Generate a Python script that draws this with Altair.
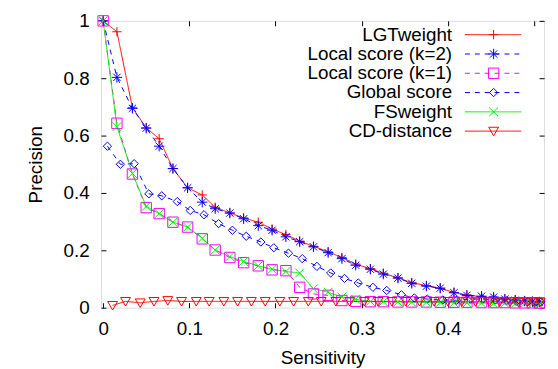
import altair as alt
import pandas as pd

# ---- data ----
series_names = ["LGTweight", "Local score (k=2)", "Local score (k=1)",
                "Global score", "FSweight", "CD-distance"]

sens_main = [0, 0.016, 0.034, 0.050, 0.065, 0.081, 0.098, 0.115, 0.130, 0.147,
             0.163, 0.180, 0.196, 0.212, 0.228, 0.244, 0.261, 0.277, 0.293, 0.310,
             0.325, 0.342, 0.358, 0.375, 0.391, 0.407, 0.422, 0.439, 0.453, 0.466,
             0.478, 0.489, 0.498, 0.506]

prec_lgt = [1.0, 0.962, 0.697, 0.627, 0.589, 0.485, 0.418, 0.393, 0.350, 0.330,
            0.313, 0.298, 0.274, 0.255, 0.232, 0.214, 0.195, 0.175, 0.152, 0.136,
            0.120, 0.104, 0.087, 0.077, 0.068, 0.053, 0.044, 0.038, 0.034, 0.030,
            0.027, 0.024, 0.022, 0.020]

prec_k2 = [1.0, 0.803, 0.695, 0.626, 0.563, 0.485, 0.418, 0.368, 0.345, 0.330,
           0.310, 0.286, 0.270, 0.247, 0.230, 0.212, 0.192, 0.171, 0.148, 0.134,
           0.117, 0.103, 0.085, 0.075, 0.068, 0.052, 0.043, 0.040, 0.037, 0.030,
           0.026, 0.023, 0.021, 0.020]

prec_k1 = [1.0, 0.643, 0.466, 0.349, 0.328, 0.298, 0.281, 0.240, 0.201, 0.175,
           0.157, 0.146, 0.132, 0.129, 0.071, 0.048, 0.043, 0.025, 0.022, 0.021,
           0.021, 0.020, 0.020, 0.020, 0.019, 0.019, 0.019, 0.018, 0.018, 0.018,
           0.017, 0.017, 0.017, 0.016]

prec_fs = [1.0, 0.631, 0.468, 0.353, 0.328, 0.298, 0.281, 0.242, 0.201, 0.178,
           0.161, 0.146, 0.134, 0.126, 0.121, 0.066, 0.054, 0.037, 0.029, 0.022,
           0.021, 0.020, 0.019, 0.019, 0.018, 0.017, 0.016, 0.016, 0.015, 0.015,
           0.014, 0.014, 0.013, 0.013]

sens_global = [0.005, 0.020, 0.036, 0.053, 0.068, 0.086, 0.101, 0.117, 0.134, 0.150,
               0.166, 0.183, 0.198, 0.215, 0.231, 0.248, 0.264, 0.280, 0.296, 0.313,
               0.329, 0.346, 0.361, 0.376, 0.394, 0.410, 0.426, 0.440, 0.455, 0.468,
               0.480, 0.492, 0.502, 0.508]
prec_global = [0.563, 0.500, 0.502, 0.397, 0.390, 0.370, 0.339, 0.324, 0.293, 0.270,
               0.249, 0.229, 0.209, 0.190, 0.171, 0.144, 0.121, 0.102, 0.086, 0.071,
               0.060, 0.045, 0.034, 0.030, 0.027, 0.026, 0.030, 0.030, 0.027, 0.024,
               0.022, 0.020, 0.020, 0.020]

sens_cd = [0.011, 0.026, 0.043, 0.059, 0.075, 0.091, 0.108, 0.123, 0.140, 0.156,
           0.172, 0.188, 0.205, 0.221, 0.238, 0.253, 0.270, 0.286, 0.303, 0.319,
           0.335, 0.351, 0.367, 0.384, 0.400, 0.416, 0.432, 0.448, 0.460, 0.472,
           0.482, 0.492, 0.500, 0.507]
prec_cd = [0.008, 0.022, 0.017, 0.022, 0.025, 0.022, 0.022, 0.022, 0.022, 0.022,
           0.022, 0.022, 0.022, 0.022, 0.022, 0.022, 0.022, 0.022, 0.022, 0.022,
           0.022, 0.022, 0.022, 0.022, 0.022, 0.021, 0.021, 0.021, 0.021, 0.020,
           0.020, 0.020, 0.020, 0.020]

x_ticks = [0, 0.1, 0.2, 0.3, 0.4, 0.5]
y_ticks = [0, 0.2, 0.4, 0.6, 0.8, 1.0]
x_range = [-0.0025, 0.5115]
y_range = [0, 1]

# ---- build tables ----
rows = []
for name, xs, ys in [
    (series_names[0], sens_main, prec_lgt),
    (series_names[1], sens_main, prec_k2),
    (series_names[2], sens_main, prec_k1),
    (series_names[3], sens_global, prec_global),
    (series_names[4], sens_main, prec_fs),
    (series_names[5], sens_cd, prec_cd),
]:
    for xv, yv in zip(xs, ys):
        rows.append({"series": name, "Sensitivity": xv, "Precision": yv})
df = pd.DataFrame(rows)

colors = ["#ff0000", "#0000ff", "#ff00ff", "#0000ff", "#00ee00", "#ff0000"]
dashes = [[1, 0], [5, 5], [5, 5], [5, 5], [1, 0], [1, 0]]
shapes = [
    "M-0.9,0L0.9,0M0,-0.9L0,0.9",
    "M-1,0L1,0M0,-1L0,1M-0.7,-0.7L0.7,0.7M-0.7,0.7L0.7,-0.7",
    "M-1,-1L1,-1L1,1L-1,1Z",
    "M-0.8,0L0,-0.8L0.8,0L0,0.8Z",
    "M-0.85,-0.85L0.85,0.85M-0.85,0.85L0.85,-0.85",
    "M-0.95,-0.75L0.95,-0.75L0,0.9Z",
]

color_enc = alt.Color("series:N", scale=alt.Scale(domain=series_names, range=colors), legend=None)
dash_enc = alt.StrokeDash("series:N", scale=alt.Scale(domain=series_names, range=dashes), legend=None)
shape_enc = alt.Shape("series:N", scale=alt.Scale(domain=series_names, range=shapes), legend=None)

FONT = "Liberation Sans"
FS = 19
TICK = 5

xscale = alt.Scale(domain=x_range, nice=False, zero=False)
yscale = alt.Scale(domain=y_range, nice=False, zero=False)

lines = alt.Chart(df).mark_line(strokeWidth=1, clip=False).encode(
    x=alt.X("Sensitivity:Q", scale=xscale,
            axis=alt.Axis(orient="bottom", values=x_ticks, format="~g", domain=False,
                          grid=False, offset=-TICK, tickSize=TICK, tickColor="black",
                          labelPadding=12, labelFont=FONT, labelFontSize=FS,
                          labelColor="black", title="Sensitivity", titleFont=FONT,
                          titleFontSize=FS, titleFontWeight="normal", titleColor="black",
                          titlePadding=10)),
    y=alt.Y("Precision:Q", scale=yscale,
            axis=alt.Axis(orient="left", values=y_ticks, format="~g", domain=False,
                          grid=False, offset=-TICK, tickSize=TICK, tickColor="black",
                          labelPadding=12, labelFont=FONT, labelFontSize=FS,
                          labelColor="black", title="Precision", titleFont=FONT,
                          titleFontSize=FS, titleFontWeight="normal", titleColor="black",
                          titlePadding=18)),
    color=color_enc,
    strokeDash=dash_enc,
    detail="series:N",
)

points = alt.Chart(df).mark_point(filled=False, strokeWidth=1, size=110, opacity=1, clip=False).encode(
    x=alt.X("Sensitivity:Q", scale=xscale,
            axis=alt.Axis(orient="top", values=x_ticks, labels=False, domain=False,
                          grid=False, offset=-TICK, tickSize=TICK, tickColor="black", title=None)),
    y=alt.Y("Precision:Q", scale=yscale,
            axis=alt.Axis(orient="right", values=y_ticks, labels=False, domain=False,
                          grid=False, offset=-TICK, tickSize=TICK, tickColor="black", title=None)),
    color=color_enc,
    shape=shape_enc,
)

# ---- legend (inside plot, top right) ----
leg = pd.DataFrame({"series": series_names,
                    "ly": [14 + 19.5 * i for i in range(len(series_names))]})

leg_y = alt.Y("ly:Q", scale=None, axis=None)
leg_rule = alt.Chart(leg).mark_rule(strokeWidth=1).encode(
    x=alt.value(368), x2=alt.value(425), y=leg_y, color=color_enc, strokeDash=dash_enc)
leg_pt = alt.Chart(leg).mark_point(filled=False, strokeWidth=1, size=110, opacity=1).encode(
    x=alt.value(397), y=leg_y, color=color_enc, shape=shape_enc)
leg_txt = alt.Chart(leg).mark_text(align="right", baseline="middle", font=FONT,
                                   fontSize=FS, color="black").encode(
    x=alt.value(355), y=leg_y, text="series:N")

chart = alt.layer(lines, points, leg_rule, leg_pt, leg_txt).resolve_axis(
    x="independent", y="independent"
).properties(
    width=448, height=290,
    autosize=alt.AutoSizeParams(type="none"),
    padding={"left": 94, "top": 11, "right": 6, "bottom": 60},
).configure_view(stroke="black", strokeWidth=1).configure(background="white")

chart.save("out.html", embed_options={"renderer": "svg", "actions": False})
